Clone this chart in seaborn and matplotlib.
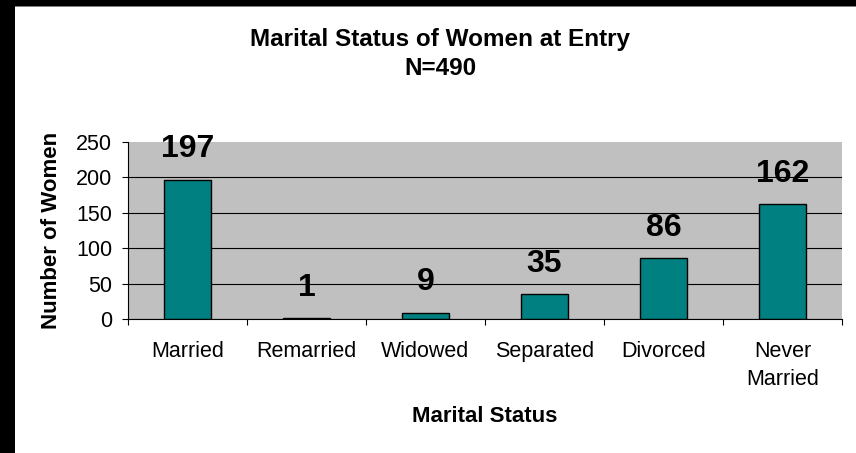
import numpy as np
import matplotlib
matplotlib.use("Agg")
import matplotlib.pyplot as plt
import seaborn as sns
from matplotlib.patches import Rectangle

# chart data
categories = ["Married", "Remarried", "Widowed", "Separated", "Divorced", "Never\nMarried"]
counts = [197, 1, 9, 35, 86, 162]
yticks = [0, 50, 100, 150, 200, 250]

sns.set_theme(style="ticks")
plt.rcParams['font.family'] = ['Liberation Sans', 'DejaVu Sans']

fig = plt.figure(figsize=(8.56, 4.53), dpi=100)
fig.patch.set_facecolor("white")
ax = fig.add_axes([128 / 856, 1 - 319 / 453, 714 / 856, 177 / 453])

sns.barplot(x=categories, y=counts, color="#008080", saturation=1,
            edgecolor="black", linewidth=1, width=0.4, ax=ax)

ax.set_facecolor("#C0C0C0")
ax.set_xlim(-0.5, len(categories) - 0.5)
ax.set_ylim(0, 250)
ax.set_yticks(yticks)
ax.set_axisbelow(True)
ax.yaxis.grid(True, color="black", lw=0.8)
ax.get_ygridlines()[-1].set_visible(False)

for s in ["top", "right"]:
    ax.spines[s].set_visible(False)
for s in ["left", "bottom"]:
    ax.spines[s].set_color("black")
    ax.spines[s].set_linewidth(0.8)

# ticks
ax.tick_params(axis="y", direction="out", length=4.3, width=0.8, color="black",
               pad=7, labelsize=15.5, labelcolor="black")
ax.set_xticks(np.arange(-0.5, len(categories)), minor=True)
ax.tick_params(axis="x", which="minor", direction="out", length=4.3, width=0.8, color="black")
ax.tick_params(axis="x", which="major", length=0, pad=16, labelsize=15.5, labelcolor="black")
for t in ax.get_xticklabels():
    t.set_linespacing(1.4)

# value labels
ax.bar_label(ax.containers[0], labels=[str(v) for v in counts], padding=11,
             fontsize=23, fontweight="bold", color="black")

ax.set_xlabel("Marital Status", fontsize=16, fontweight="bold", color="black")
ax.xaxis.set_label_coords(0.5, -(416 - 319) / 177)
ax.xaxis.label.set_va("center")
ax.set_ylabel("Number of Women", fontsize=16, fontweight="bold", color="black")
ax.yaxis.set_label_coords((52 - 128) / 714, 0.5)
ax.yaxis.label.set_va("center")

fig.text(440 / 856, 1 - 54 / 453, "Marital Status of Women at Entry\nN=490",
         ha="center", va="center", fontsize=17.5, fontweight="bold",
         linespacing=1.3, color="black")

# black frame strips (screenshot border)
fig.patches.append(Rectangle((0, 0), 15 / 856, 1, transform=fig.transFigure,
                             facecolor="black", edgecolor="none", zorder=10))
fig.patches.append(Rectangle((0, 1 - 6 / 453), 1, 6 / 453, transform=fig.transFigure,
                             facecolor="black", edgecolor="none", zorder=10))
fig.patches.append(Rectangle((15 / 856, 1 - 7 / 453), 1, 1 / 453, transform=fig.transFigure,
                             facecolor="#808080", edgecolor="none", zorder=10))

fig.savefig("out.png", dpi=100)
